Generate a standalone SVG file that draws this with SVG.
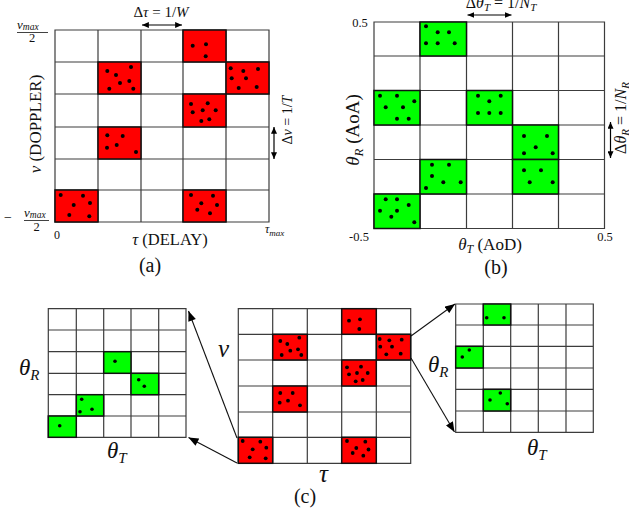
<svg xmlns="http://www.w3.org/2000/svg" width="629" height="512" viewBox="0 0 629 512" font-family="'Liberation Serif','DejaVu Serif',serif">
<style>
text{font-family:"Liberation Serif","DejaVu Serif",serif;fill:#111}
.m{font-style:italic}
.u{font-style:normal}
.g{fill:none;stroke:#3c3c3c;stroke-width:1.2}
.r{fill:#ff0000;stroke:#111;stroke-width:1.5}
.gr{fill:#00ff00;stroke:#111;stroke-width:1.5}
.d circle{fill:#000}
.ar{stroke:#000;stroke-width:1.2;fill:none}
.cn{stroke:#111;stroke-width:1.1;fill:none}
</style>
<defs>
<marker id="h" viewBox="0 0 8 7" refX="8" refY="3.5" markerWidth="7" markerHeight="6" markerUnits="userSpaceOnUse" orient="auto-start-reverse"><path d="M0,0 L8,3.5 L0,7 z" fill="#000"/></marker>
<marker id="hc" viewBox="0 0 10 8" refX="10" refY="4" markerWidth="11" markerHeight="8" markerUnits="userSpaceOnUse" orient="auto"><path d="M0,0 L10,4 L0,8 z" fill="#000"/></marker>
</defs>

<!-- Panel (a) -->
<g id="panel-a">
<rect x="55" y="30" width="214" height="192" fill="#fff"/>
<path class="g" d="M55,30H269V222H55Z M98,30V222 M141,30V222 M183,30V222 M226,30V222 M55,62H269 M55,94H269 M55,127H269 M55,159H269 M55,190H269"/>
<rect class="r" x="183" y="30" width="43" height="32"/>
<rect class="r" x="98" y="62" width="43" height="32"/>
<rect class="r" x="226" y="62" width="43" height="32"/>
<rect class="r" x="183" y="94" width="43" height="33"/>
<rect class="r" x="98" y="127" width="43" height="32"/>
<rect class="r" x="55" y="190" width="43" height="32"/>
<rect class="r" x="183" y="190" width="43" height="32"/>
<g class="d">
<circle cx="192.7" cy="45.7" r="2"/><circle cx="206" cy="44.3" r="2"/><circle cx="205.7" cy="56.3" r="2"/>
<circle cx="107.3" cy="71" r="2"/><circle cx="116" cy="75" r="2"/><circle cx="131" cy="67" r="2"/><circle cx="120" cy="83" r="2"/><circle cx="129.3" cy="81" r="2"/><circle cx="109.3" cy="88.7" r="2"/><circle cx="133.3" cy="88.7" r="2"/>
<circle cx="230.7" cy="68.3" r="2"/><circle cx="243.3" cy="71" r="2"/><circle cx="258" cy="69" r="2"/><circle cx="231.7" cy="78.3" r="2"/><circle cx="246" cy="78.3" r="2"/><circle cx="238.7" cy="88" r="2"/><circle cx="256.7" cy="87" r="2"/>
<circle cx="191" cy="104" r="2"/><circle cx="207.7" cy="103.3" r="2"/><circle cx="192.7" cy="112.3" r="2"/><circle cx="202.7" cy="110.3" r="2"/><circle cx="215.7" cy="110.3" r="2"/><circle cx="201.3" cy="121" r="2"/><circle cx="209.3" cy="119.3" r="2"/>
<circle cx="107.3" cy="135.3" r="2"/><circle cx="122.7" cy="136" r="2"/><circle cx="107" cy="147.7" r="2"/><circle cx="116.7" cy="145" r="2"/><circle cx="136" cy="152" r="2"/>
<circle cx="60.7" cy="195" r="2"/><circle cx="83" cy="195.7" r="2"/><circle cx="73.7" cy="205" r="2"/><circle cx="90" cy="203" r="2"/><circle cx="69.3" cy="215" r="2"/><circle cx="89.3" cy="216.3" r="2"/>
<circle cx="191" cy="195" r="2"/><circle cx="213" cy="195.7" r="2"/><circle cx="201.3" cy="203.3" r="2"/><circle cx="217" cy="205" r="2"/><circle cx="197.3" cy="209.7" r="2"/><circle cx="210" cy="213.3" r="2"/>
</g>
<text x="161" y="17" font-size="15" text-anchor="middle">Δ<tspan class="m">τ</tspan> = 1/<tspan class="m">W</tspan></text>
<text x="17" y="28.5" font-size="13" class="m">ν<tspan font-size="9.5" dy="1.5">max</tspan></text>
<line x1="17" y1="32.5" x2="48" y2="32.5" stroke="#111" stroke-width="0.8"/>
<text x="32" y="42" font-size="12.5" text-anchor="middle">2</text>
<text x="4" y="222" font-size="14">−</text>
<text x="24" y="216.5" font-size="13" class="m">ν<tspan font-size="9.5" dy="1.5">max</tspan></text>
<line x1="24" y1="220.5" x2="49" y2="220.5" stroke="#111" stroke-width="0.8"/>
<text x="36.5" y="230.5" font-size="12.5" text-anchor="middle">2</text>
<text x="57" y="239" font-size="12" text-anchor="middle">0</text>
<text x="265" y="233" font-size="12" class="m">τ<tspan font-size="9" dy="2.5">max</tspan></text>
<text x="170" y="245" font-size="16.5" text-anchor="middle"><tspan class="m">τ</tspan> (DELAY)</text>
<text x="150" y="272" font-size="20" text-anchor="middle">(a)</text>
<text transform="translate(41,124) rotate(-90)" font-size="17" text-anchor="middle"><tspan class="m">ν</tspan> (DOPPLER)</text>
<text transform="translate(292,120) rotate(-90)" font-size="14" text-anchor="middle">Δ<tspan class="m">ν</tspan> = 1/<tspan class="m">T</tspan></text>
</g>

<!-- Panel (b) -->
<g id="panel-b">
<rect x="374" y="22" width="230.5" height="206.5" fill="#fff"/>
<path class="g" d="M374,22H604.5V228.5H374Z M420,22V228.5 M466.5,22V228.5 M512.5,22V228.5 M558.5,22V228.5 M374,56H604.5 M374,90.5H604.5 M374,125H604.5 M374,159.5H604.5 M374,194H604.5"/>
<rect class="gr" x="420" y="22" width="46.5" height="34"/>
<rect class="gr" x="374" y="90.5" width="46" height="34.5"/>
<rect class="gr" x="466.5" y="90.5" width="46" height="34.5"/>
<rect class="gr" x="512.5" y="125" width="46" height="34.5"/>
<rect class="gr" x="420" y="159.5" width="46.5" height="34.5"/>
<rect class="gr" x="512.5" y="159.5" width="46" height="34.5"/>
<rect class="gr" x="374" y="194" width="46" height="34.5"/>
<g class="d">
<circle cx="426" cy="26.3" r="2"/><circle cx="437.7" cy="32.3" r="2"/><circle cx="449" cy="32.3" r="2"/><circle cx="426" cy="43.3" r="2"/><circle cx="437.7" cy="43.3" r="2"/><circle cx="454.7" cy="43.3" r="2"/>
<circle cx="380" cy="95.7" r="2"/><circle cx="397" cy="95.7" r="2"/><circle cx="414.3" cy="101.3" r="2"/><circle cx="385.7" cy="107.3" r="2"/><circle cx="403" cy="107.3" r="2"/><circle cx="397" cy="118.7" r="2"/><circle cx="408.7" cy="118.7" r="2"/>
<circle cx="478" cy="95.7" r="2"/><circle cx="500.7" cy="95.7" r="2"/><circle cx="489.3" cy="101.3" r="2"/><circle cx="478" cy="113" r="2"/><circle cx="489.3" cy="113" r="2"/><circle cx="500.7" cy="113" r="2"/>
<circle cx="524" cy="136" r="2"/><circle cx="547" cy="136" r="2"/><circle cx="535.7" cy="147.3" r="2"/><circle cx="524" cy="153.3" r="2"/><circle cx="552.7" cy="153.3" r="2"/>
<circle cx="432" cy="164.7" r="2"/><circle cx="449" cy="164.7" r="2"/><circle cx="432" cy="176" r="2"/><circle cx="443.3" cy="182.3" r="2"/><circle cx="460.7" cy="182.3" r="2"/><circle cx="426" cy="188" r="2"/>
<circle cx="524" cy="170.3" r="2"/><circle cx="541" cy="170.3" r="2"/><circle cx="529.7" cy="182.3" r="2"/><circle cx="552.7" cy="182.3" r="2"/>
<circle cx="385.7" cy="199.3" r="2"/><circle cx="397" cy="199.3" r="2"/><circle cx="380" cy="210.7" r="2"/><circle cx="397" cy="210.7" r="2"/><circle cx="408.7" cy="205" r="2"/><circle cx="391.3" cy="216.7" r="2"/><circle cx="414.3" cy="222.3" r="2"/>
</g>
<text x="501" y="8" font-size="16" text-anchor="middle">Δ<tspan class="m">θ<tspan font-size="11" dy="3">T</tspan></tspan><tspan dy="-3"> = 1/</tspan><tspan class="m">N<tspan font-size="11" dy="3">T</tspan></tspan></text>
<text x="360" y="27" font-size="12.5" text-anchor="middle">0.5</text>
<text x="359" y="241" font-size="12.5" text-anchor="middle">-0.5</text>
<text x="605" y="241" font-size="12.5" text-anchor="middle">0.5</text>
<text x="490" y="250" font-size="17" text-anchor="middle"><tspan class="m">θ<tspan font-size="12" dy="3">T</tspan></tspan><tspan dy="-3"> (AoD)</tspan></text>
<text x="496" y="274" font-size="20" text-anchor="middle">(b)</text>
<text transform="translate(359,130) rotate(-90)" font-size="19" text-anchor="middle"><tspan class="m">θ<tspan font-size="13" dy="4">R</tspan></tspan><tspan dy="-4"> (AoA)</tspan></text>
<text transform="translate(626,118) rotate(-90)" font-size="16" text-anchor="middle">Δ<tspan class="m">θ<tspan font-size="11" dy="3">R</tspan></tspan><tspan dy="-3"> = 1/</tspan><tspan class="m">N<tspan font-size="11" dy="3">R</tspan></tspan></text>
</g>

<!-- Panel (c) left -->
<g id="panel-c-left">
<rect x="48.3" y="308.7" width="137.7" height="128.6" fill="#fff"/>
<path class="g" d="M48.3,308.7H186V437.3H48.3Z M76.3,308.7V437.3 M103.7,308.7V437.3 M131,308.7V437.3 M158.7,308.7V437.3 M48.3,330H186 M48.3,351.7H186 M48.3,373.3H186 M48.3,394.7H186 M48.3,416H186"/>
<rect class="gr" x="103.7" y="351.7" width="27.3" height="21.6"/>
<rect class="gr" x="131" y="373.3" width="27.7" height="21.4"/>
<rect class="gr" x="76.3" y="394.7" width="27.4" height="21.3"/>
<rect class="gr" x="48.3" y="416" width="28" height="21.3"/>
<g class="d">
<circle cx="115" cy="361.3" r="1.8"/>
<circle cx="138.7" cy="379.7" r="1.8"/><circle cx="144.3" cy="386.3" r="1.8"/>
<circle cx="81.7" cy="399.3" r="1.8"/><circle cx="80" cy="411.7" r="1.8"/><circle cx="92" cy="409.3" r="1.8"/>
<circle cx="59.7" cy="425.7" r="1.8"/>
</g>
<text x="19" y="375" font-size="23" class="m">θ<tspan font-size="15" dy="5">R</tspan></text>
<text x="107" y="458" font-size="23" class="m">θ<tspan font-size="15" dy="5">T</tspan></text>
</g>

<!-- Panel (c) center -->
<g id="panel-c-center">
<rect x="238.3" y="308.7" width="172.4" height="154.6" fill="#fff"/>
<path class="g" d="M238.3,308.7H410.7V463.3H238.3Z M272.7,308.7V463.3 M307.3,308.7V463.3 M341.7,308.7V463.3 M376.3,308.7V463.3 M238.3,334.3H410.7 M238.3,360H410.7 M238.3,386H410.7 M238.3,412H410.7 M238.3,437.3H410.7"/>
<rect class="r" x="341.7" y="308.7" width="34.6" height="25.6"/>
<rect class="r" x="272.7" y="334.3" width="34.6" height="25.7"/>
<rect class="r" x="376.3" y="334.3" width="34.4" height="25.7"/>
<rect class="r" x="341.7" y="360" width="34.6" height="26"/>
<rect class="r" x="272.7" y="386" width="34.6" height="26"/>
<rect class="r" x="238.3" y="437.3" width="34.4" height="26"/>
<rect class="r" x="341.7" y="437.3" width="34.6" height="26"/>
<g class="d">
<circle cx="349" cy="320.7" r="1.9"/><circle cx="360" cy="319.3" r="1.9"/><circle cx="359.3" cy="329" r="1.9"/>
<circle cx="280.3" cy="341" r="1.9"/><circle cx="287.3" cy="344" r="1.9"/><circle cx="299.3" cy="337.7" r="1.9"/><circle cx="290.3" cy="350.7" r="1.9"/><circle cx="298" cy="349.3" r="1.9"/><circle cx="281.7" cy="355" r="1.9"/><circle cx="301.3" cy="355" r="1.9"/>
<circle cx="379.7" cy="339" r="1.9"/><circle cx="389.3" cy="340.3" r="1.9"/><circle cx="401.7" cy="339.7" r="1.9"/><circle cx="380.3" cy="346.7" r="1.9"/><circle cx="392" cy="346.7" r="1.9"/><circle cx="386.3" cy="354.3" r="1.9"/><circle cx="400.7" cy="353.7" r="1.9"/>
<circle cx="347" cy="367.3" r="1.9"/><circle cx="361" cy="366.7" r="1.9"/><circle cx="349" cy="374.3" r="1.9"/><circle cx="357" cy="373" r="1.9"/><circle cx="367.7" cy="373" r="1.9"/><circle cx="355.7" cy="381.3" r="1.9"/><circle cx="362.7" cy="380" r="1.9"/>
<circle cx="280.3" cy="393" r="1.9"/><circle cx="292.7" cy="393" r="1.9"/><circle cx="279.7" cy="402.7" r="1.9"/><circle cx="288" cy="400.7" r="1.9"/><circle cx="300" cy="405.3" r="1.9"/>
<circle cx="242.7" cy="441" r="1.9"/><circle cx="260.3" cy="441.7" r="1.9"/><circle cx="252.7" cy="449.3" r="1.9"/><circle cx="266.3" cy="447.7" r="1.9"/><circle cx="249.7" cy="457.3" r="1.9"/><circle cx="265.7" cy="458.3" r="1.9"/>
<circle cx="347" cy="441" r="1.9"/><circle cx="365.3" cy="441.7" r="1.9"/><circle cx="356.3" cy="448" r="1.9"/><circle cx="368.5" cy="449.5" r="1.9"/><circle cx="352.7" cy="453" r="1.9"/><circle cx="363.3" cy="455.7" r="1.9"/>
</g>
<text x="218" y="357" font-size="25" class="m">ν</text>
<text x="319" y="482" font-size="25" class="m">τ</text>
<text x="305" y="503" font-size="20" text-anchor="middle">(c)</text>
</g>

<!-- Panel (c) right -->
<g id="panel-c-right">
<rect x="455.7" y="304" width="137.6" height="128.3" fill="#fff"/>
<path class="g" d="M455.7,304H593.3V432.3H455.7Z M483.3,304V432.3 M510.7,304V432.3 M538.3,304V432.3 M566,304V432.3 M455.7,325H593.3 M455.7,346.3H593.3 M455.7,368H593.3 M455.7,389.3H593.3 M455.7,411H593.3"/>
<rect class="gr" x="483.3" y="304" width="27.4" height="21"/>
<rect class="gr" x="455.7" y="346.3" width="27.6" height="21.7"/>
<rect class="gr" x="483.3" y="389.3" width="27.4" height="21.7"/>
<g class="d">
<circle cx="486.7" cy="317.7" r="1.8"/><circle cx="504" cy="317.7" r="1.8"/>
<circle cx="469.3" cy="350" r="1.8"/><circle cx="462.3" cy="357" r="1.8"/>
<circle cx="500.3" cy="393" r="1.8"/><circle cx="490" cy="400" r="1.8"/><circle cx="507.3" cy="403.7" r="1.8"/>
</g>
<text x="428" y="372" font-size="23" class="m">θ<tspan font-size="15" dy="5">R</tspan></text>
<text x="527" y="455" font-size="23" class="m">θ<tspan font-size="15" dy="5">T</tspan></text>
</g>

<!-- Connectors -->
<g id="connectors">
<line class="ar" x1="142" y1="25" x2="182" y2="25" marker-start="url(#h)" marker-end="url(#h)"/>
<line class="ar" x1="274" y1="127" x2="274" y2="159" marker-start="url(#h)" marker-end="url(#h)"/>
<line class="ar" x1="467.5" y1="15" x2="511.5" y2="15" marker-start="url(#h)" marker-end="url(#h)"/>
<line class="ar" x1="610.5" y1="122" x2="610.5" y2="158" marker-start="url(#h)" marker-end="url(#h)"/>
<line class="cn" x1="237" y1="438" x2="188.5" y2="311" marker-end="url(#hc)"/>
<line class="cn" x1="237" y1="463" x2="188.5" y2="437.5" marker-end="url(#hc)"/>
<line class="cn" x1="411" y1="336" x2="455" y2="304" marker-end="url(#hc)"/>
<line class="cn" x1="411" y1="358" x2="454.5" y2="432" marker-end="url(#hc)"/>
</g>
</svg>
